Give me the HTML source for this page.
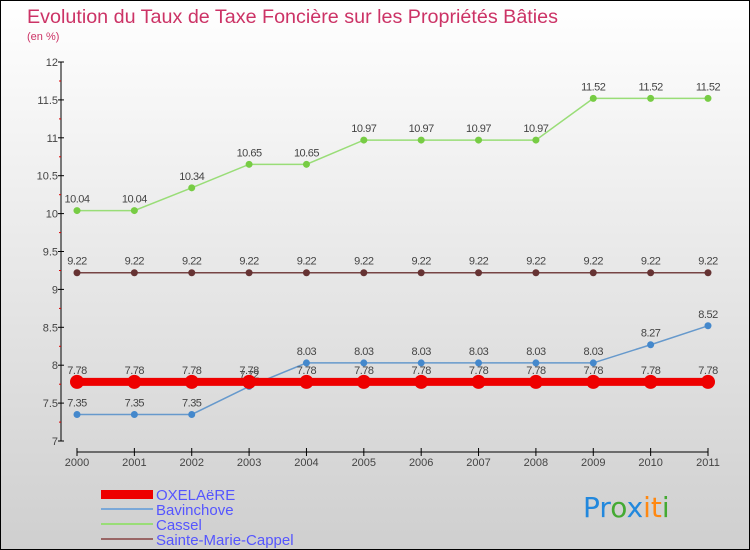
<!DOCTYPE html>
<html><head><meta charset="utf-8"><style>
body{margin:0}
#wrap{width:750px;height:550px;position:relative;overflow:hidden;box-sizing:border-box;border:1px solid #000;background:linear-gradient(#ffffff,#cfcfcf);font-family:"Liberation Sans",sans-serif}
</style></head><body>
<div id="wrap">
<svg id="chart" width="750" height="550" style="position:absolute;left:0;top:0">
<text x="26" y="22" font-size="19" fill="#cc3366" textLength="531" lengthAdjust="spacingAndGlyphs">Evolution du Taux de Taxe Foncière sur les Propriétés Bâties</text>
<text x="26" y="39" font-size="11" fill="#cc3366">(en %)</text>
<g id="axes"></g><g id="series"></g>
<g>
<rect x="100" y="489" width="52" height="9" fill="#e00"/>
<text x="155" y="499" font-size="15" fill="#5555ff">OXELAëRE</text>
<line x1="100" y1="508" x2="152" y2="508" stroke="#7aa8d8" stroke-width="2"/>
<text x="155" y="514" font-size="15" fill="#5555ff">Bavinchove</text>
<line x1="100" y1="523" x2="152" y2="523" stroke="#99dd77" stroke-width="2"/>
<text x="155" y="529" font-size="15" fill="#5555ff">Cassel</text>
<line x1="100" y1="538" x2="152" y2="538" stroke="#996666" stroke-width="2"/>
<text x="155" y="544" font-size="15" fill="#5555ff">Sainte-Marie-Cappel</text>
</g>
<text x="582" y="516" font-size="28" font-family="'DejaVu Sans',sans-serif"><tspan fill="#2288dd">Pr</tspan><tspan fill="#44aa33">o</tspan><tspan fill="#2288dd">x</tspan><tspan fill="#ff8811">it</tspan><tspan fill="#44aa33">i</tspan></text>
</svg>
</div>
<script>
const years=["2000","2001","2002","2003","2004","2005","2006","2007","2008","2009","2010","2011"];
const yTicks=[7,7.5,8,8.5,9,9.5,10,10.5,11,11.5,12];
const oxelaere=[7.78,7.78,7.78,7.78,7.78,7.78,7.78,7.78,7.78,7.78,7.78,7.78];
const bavinchove=[7.35,7.35,7.35,7.72,8.03,8.03,8.03,8.03,8.03,8.03,8.27,8.52];
const cassel=[10.04,10.04,10.34,10.65,10.65,10.97,10.97,10.97,10.97,11.52,11.52,11.52];
const smc=[9.22,9.22,9.22,9.22,9.22,9.22,9.22,9.22,9.22,9.22,9.22,9.22];
const NS="http://www.w3.org/2000/svg";
const xS=i=>76+i*(707-76)/11;
const yS=v=>440-(v-7)*(440-61)/5;
function mk(t,a,p){const e=document.createElementNS(NS,t);for(const k in a)e.setAttribute(k,a[k]);p.appendChild(e);return e;}
const ax=document.getElementById('axes'),sr=document.getElementById('series');
let e=mk('line',{x1:60,y1:61,x2:60,y2:440,stroke:'#000'},ax);


e=mk('line',{x1:76,y1:451,x2:707,y2:451,stroke:'#000'},ax);


yTicks.forEach((v,k)=>{const y=yS(v);mk('line',{x1:57,y1:y,x2:63,y2:y,stroke:'#000'},ax);
if(k>0)mk('line',{x1:58,y1:y+19,x2:60,y2:y+19,stroke:'#d00'},ax);
const t=mk('text',{x:57,y:y+4,'font-size':11,fill:'#444','text-anchor':'end'},ax);t.textContent=String(v);

});
years.forEach((yr,i)=>{const x=xS(i);mk('line',{x1:x,y1:447,x2:x,y2:455,stroke:'#000'},ax);
const t=mk('text',{x:x,y:465,'font-size':11,fill:'#444','text-anchor':'middle'},ax);t.textContent=yr;

});
function series(d,name,col,dot,w,r,labels){
const g=mk('g',{},sr);


mk('polyline',{points:d.map((v,i)=>xS(i)+','+yS(v)).join(' '),fill:'none',stroke:col,'stroke-width':w},g);
d.forEach((v,i)=>{const c=mk('circle',{cx:xS(i),cy:yS(v),r:r,fill:dot},g);


if(labels){const t=mk('text',{x:xS(i),y:yS(v)-8,'font-size':11,fill:'#444','text-anchor':'middle','letter-spacing':'-0.5'},g);t.textContent=String(v);

}});}
series(cassel,'cassel','#99dd77','#77cc44',1.5,3.5,true);
series(smc,'sainte-marie-cappel','#774444','#663333',1.5,3.5,true);
series(bavinchove,'bavinchove','#6699cc','#4488cc',1.5,3.5,true);
series(oxelaere,'oxelaere','#ee0000','#ee0000',8,7,true);
</script>
</body></html>
